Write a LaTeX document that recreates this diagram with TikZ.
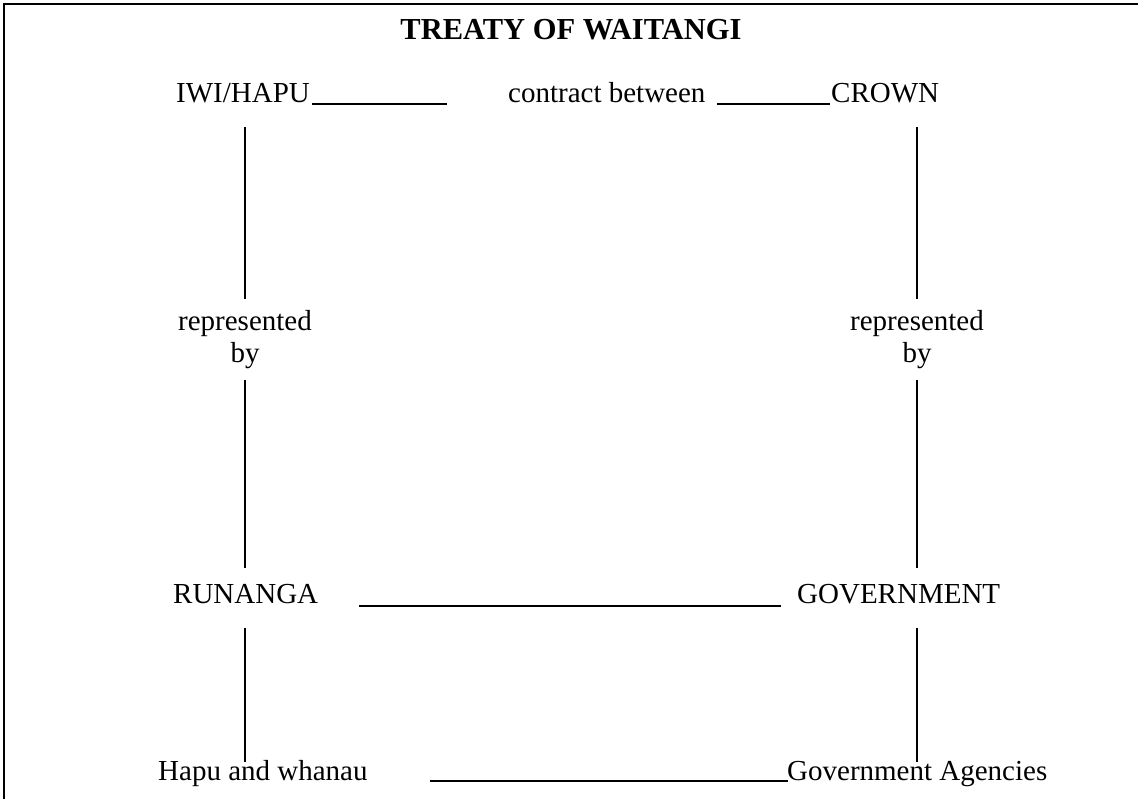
\documentclass[tikz,border=0pt]{standalone}
\usepackage{fontspec}
\setmainfont{Liberation Serif}
\begin{document}
\begin{tikzpicture}[x=1pt,y=-1pt,
  lbl/.style={anchor=base,inner sep=0pt,font=\fontsize{29}{34}\selectfont},
  ttl/.style={anchor=base,inner sep=0pt,font=\fontsize{30.5}{36}\selectfont\bfseries},
  vline/.style={line width=1.3pt},
  hline/.style={line width=1.8pt},
  hthick/.style={line width=2.6pt},
  frame/.style={line width=2pt}]
\useasboundingbox (0,0) rectangle (1138,799);
% frame
\coordinate (fTL) at (4,4);
\coordinate (fTR) at (1138,4);
\coordinate (fBL) at (4,799);
\draw[frame] (fBL) -- (fTL) -- (fTR);
% title
\node[ttl] (title) at (571,40) {TREATY OF WAITANGI};
% row 1
\node[lbl,anchor=base west] (iwi) at (176,103) {IWI/HAPU};
\node[lbl,anchor=base west] (contract) at (508,103) {contract between};
\node[lbl,anchor=base west] (crown) at (831,103) {CROWN};
\coordinate (a1) at (312,104); \coordinate (a2) at (447,104);
\coordinate (b1) at (717,104); \coordinate (b2) at (830,104);
\draw[hline] (a1) -- (a2);
\draw[hline] (b1) -- (b2);
% represented by
\node[lbl] (repL) at (245,331) {represented};
\node[lbl] (byL) at (245,363) {by};
\node[lbl] (repR) at (917,331) {represented};
\node[lbl] (byR) at (917,363) {by};
% row 3
\node[lbl,anchor=base west] (run) at (173,603) {RUNANGA};
\node[lbl,anchor=base west] (gov) at (797,603) {GOVERNMENT};
\coordinate (c1) at (359,606); \coordinate (c2) at (781,606);
\draw[hthick] (c1) -- (c2);
% row 4
\node[lbl,anchor=base west] (hapu) at (158,780) {Hapu and whanau};
\node[lbl,anchor=base west] (agen) at (787,780) {Government Agencies};
\coordinate (d1) at (430,781); \coordinate (d2) at (788,781);
\draw[hthick] (d1) -- (d2);
% verticals
\coordinate (L1) at (245,127); \coordinate (L2) at (245,299);
\coordinate (L3) at (245,380); \coordinate (L4) at (245,568);
\coordinate (L5) at (245,628); \coordinate (L6) at (245,762);
\coordinate (R1) at (917,127); \coordinate (R2) at (917,299);
\coordinate (R3) at (917,380); \coordinate (R4) at (917,568);
\coordinate (R5) at (917,628); \coordinate (R6) at (917,762);
\draw[vline] (L1) -- (L2);
\draw[vline] (L3) -- (L4);
\draw[vline] (L5) -- (L6);
\draw[vline] (R1) -- (R2);
\draw[vline] (R3) -- (R4);
\draw[vline] (R5) -- (R6);
\end{tikzpicture}
\end{document}
